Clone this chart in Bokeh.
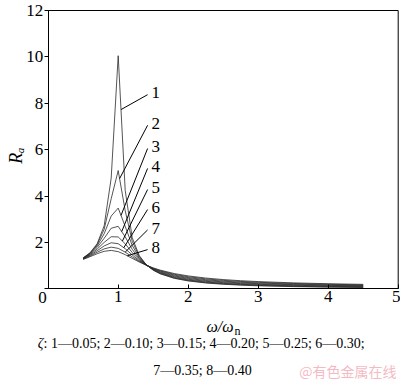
import math
import numpy as np
from bokeh.plotting import figure
from bokeh.models import Label, Range1d, FixedTicker
from bokeh.embed import file_html
from bokeh.resources import INLINE

# ---- data ----
ratio = [0.5, 0.6, 0.7, 0.8, 0.9, 1.0, 1.1, 1.2, 1.3, 1.4, 1.5, 1.6, 1.8, 2.0,
         2.25, 2.5, 2.75, 3.0, 3.5, 4.0, 4.5]
ra_1 = [1.332, 1.558, 1.947, 2.720, 4.776, 10.05, 4.244, 2.208, 1.436, 1.041, 0.803,
        0.646, 0.452, 0.339, 0.252, 0.196, 0.158, 0.130, 0.094, 0.072, 0.057]
ra_2 = [1.328, 1.547, 1.909, 2.571, 3.882, 5.099, 3.367, 2.052, 1.401, 1.038, 0.812,
        0.659, 0.468, 0.356, 0.268, 0.212, 0.173, 0.145, 0.108, 0.085, 0.070]
ra_3 = [1.322, 1.528, 1.853, 2.377, 3.137, 3.480, 2.692, 1.870, 1.354, 1.035, 0.825,
        0.680, 0.493, 0.381, 0.293, 0.236, 0.196, 0.167, 0.128, 0.104, 0.087]
ra_4 = [1.314, 1.505, 1.785, 2.180, 2.611, 2.693, 2.241, 1.703, 1.305, 1.031, 0.841,
        0.704, 0.524, 0.412, 0.323, 0.265, 0.223, 0.193, 0.152, 0.125, 0.107]
ra_5 = [1.304, 1.477, 1.713, 2.001, 2.245, 2.236, 1.939, 1.567, 1.258, 1.027, 0.857,
        0.730, 0.557, 0.447, 0.357, 0.297, 0.254, 0.221, 0.177, 0.148, 0.127]
ra_6 = [1.292, 1.447, 1.642, 1.849, 1.985, 1.944, 1.730, 1.460, 1.218, 1.024, 0.873,
        0.757, 0.592, 0.483, 0.392, 0.330, 0.285, 0.251, 0.203, 0.171, 0.148]
ra_7 = [1.280, 1.417, 1.575, 1.722, 1.796, 1.744, 1.581, 1.377, 1.184, 1.021, 0.888,
        0.782, 0.626, 0.520, 0.428, 0.364, 0.317, 0.281, 0.230, 0.195, 0.169]
ra_8 = [1.267, 1.387, 1.513, 1.617, 1.655, 1.601, 1.472, 1.313, 1.156, 1.018, 0.901,
        0.805, 0.658, 0.555, 0.463, 0.398, 0.349, 0.311, 0.256, 0.219, 0.191]
series = [ra_1, ra_2, ra_3, ra_4, ra_5, ra_6, ra_7, ra_8]

curve_labels = ["1", "2", "3", "4", "5", "6", "7", "8"]
zeta_values = ["0.05", "0.10", "0.15", "0.20", "0.25", "0.30", "0.35", "0.40"]
label_y = [8.45, 7.13, 6.13, 5.27, 4.36, 3.50, 2.62, 1.77]
leader_r = [1.04, 1.02, 1.04, 1.05, 1.06, 1.08, 1.10, 1.13]

x_ticks = [0, 1, 2, 3, 4, 5]
y_ticks = [0, 2, 4, 6, 8, 10, 12]

# ---- layout: the plot frame covers the whole canvas ----
W, H = 400, 383
X0PX, XPX = 47.7, 70.0          # page px of x=0, px per x unit
Y0PX, YPX = 288.3, (288.3 - 10.0) / 12.0   # page px of y=0, px per y unit


def X(px):
    return (px - X0PX) / XPX


def Y(py):
    return (Y0PX - py) / YPX


SERIF = "Liberation Serif"

p = figure(width=W, height=H,
           x_range=Range1d(X(0), X(W)), y_range=Range1d(Y(H), Y(0)),
           output_backend="svg", toolbar_location=None, title=None,
           min_border=0, min_border_left=0, min_border_right=0,
           min_border_top=0, min_border_bottom=0)
p.background_fill_color = "white"
p.border_fill_color = "white"
p.outline_line_color = None
p.xgrid.visible = False
p.ygrid.visible = False

xa = p.xaxis[0]
xa.fixed_location = 0
xa.bounds = (x_ticks[0], x_ticks[-1])
xa.ticker = FixedTicker(ticks=x_ticks)
xa.major_label_overrides = {0: ""}
xa.major_tick_in = 4
xa.major_tick_out = 0
xa.minor_tick_line_color = None
xa.major_label_standoff = 2
xa.major_label_text_font = SERIF
xa.major_label_text_font_size = "17px"
xa.major_label_text_color = "black"
xa.axis_line_color = "black"
xa.major_tick_line_color = "black"

ya = p.yaxis[0]
ya.fixed_location = 0
ya.bounds = (y_ticks[0], y_ticks[-1])
ya.ticker = FixedTicker(ticks=y_ticks)
ya.major_label_overrides = {0: ""}
ya.major_tick_in = 0
ya.major_tick_out = 4
ya.minor_tick_line_color = None
ya.major_label_standoff = 1
ya.major_label_text_font = SERIF
ya.major_label_text_font_size = "17px"
ya.major_label_text_color = "black"
ya.axis_line_color = "black"
ya.major_tick_line_color = "black"

# top and right border of the plot box
p.segment(x0=[x_ticks[0], x_ticks[-1]], y0=[y_ticks[-1], y_ticks[0]],
          x1=[x_ticks[-1], x_ticks[-1]], y1=[y_ticks[-1], y_ticks[-1]],
          line_color="black", line_width=1)

# curves
for s in series:
    p.line(ratio, s, line_color="#2a2a2a", line_width=0.8)

# leaders and curve numbers
x0 = [1.42] * len(series)
y0 = [v - 0.08 for v in label_y]
x1 = leader_r
y1 = [float(np.interp(r, ratio, s)) for r, s in zip(leader_r, series)]
p.segment(x0=x0, y0=y0, x1=x1, y1=y1, line_color="black", line_width=1)
for lab, yv in zip(curve_labels, label_y):
    p.add_layout(Label(x=1.476, y=yv, text=lab, text_font=SERIF,
                       text_font_size="17px", text_align="left",
                       text_baseline="middle", text_color="black"))

# origin "0"
p.add_layout(Label(x=X(42), y=Y(297), text="0", text_font=SERIF,
                   text_font_size="17px", text_align="center",
                   text_baseline="middle", text_color="black"))

# y axis label R_a (rotated, reads bottom to top)
p.add_layout(Label(x=X(15), y=Y(155), text="R\u2090", angle=math.pi / 2,
                   text_font=SERIF, text_font_style="italic",
                   text_font_size="18px", text_align="center",
                   text_baseline="middle", text_color="black"))

# x axis label  ω/ω_n
p.add_layout(Label(x=X(233), y=Y(326), text="ω/ω", text_font=SERIF,
                   text_font_style="italic", text_font_size="16px",
                   text_align="right", text_baseline="middle",
                   text_color="black"))
p.add_layout(Label(x=X(234), y=Y(330), text="n", text_font=SERIF,
                   text_font_size="12px", text_align="left",
                   text_baseline="middle", text_color="black"))

# caption
pairs = [f"{a}\u2014{z}" for a, z in zip(curve_labels, zeta_values)]
line1 = ": " + "; ".join(pairs[:6]) + ";"
line2 = "; ".join(pairs[6:])
p.add_layout(Label(x=X(43), y=Y(343), text="ζ", text_font=SERIF,
                   text_font_style="italic", text_font_size="14px",
                   text_align="right", text_baseline="middle",
                   text_color="black"))
p.add_layout(Label(x=X(43), y=Y(343), text=line1, text_font=SERIF,
                   text_font_size="14px", text_align="left",
                   text_baseline="middle", text_color="black"))
p.add_layout(Label(x=X(202), y=Y(370), text=line2, text_font=SERIF,
                   text_font_size="14px", text_align="center",
                   text_baseline="middle", text_color="black"))

# watermark
p.add_layout(Label(x=X(396), y=Y(370), text="@有色金属在线",
                   text_font="Noto Sans CJK SC", text_font_size="14px",
                   text_align="right", text_baseline="middle",
                   text_color="#f2a7b4", text_alpha=0.8))

open("out.html", "w").write(file_html(p, INLINE))
